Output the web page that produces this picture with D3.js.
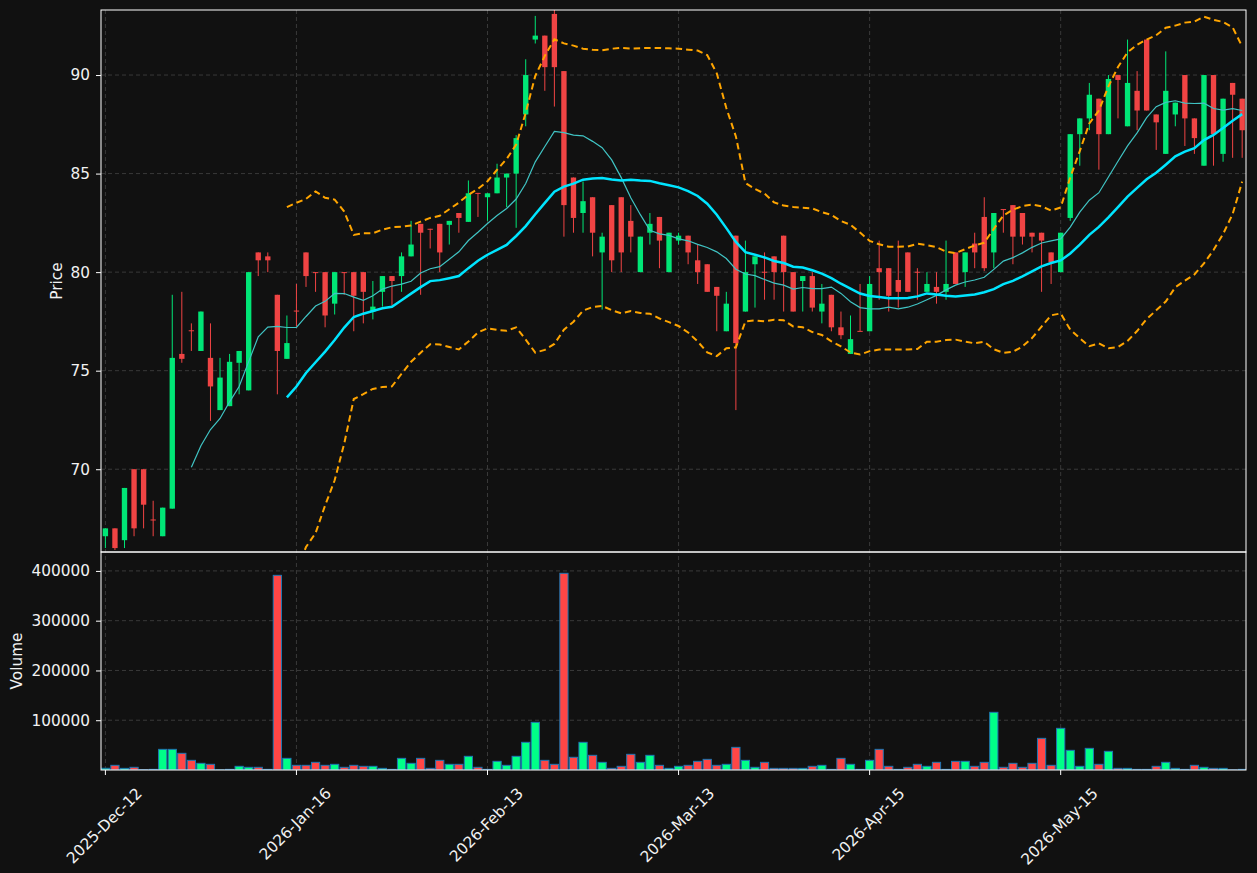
<!DOCTYPE html>
<html>
<head>
<meta charset="utf-8">
<script src="https://cdn.jsdelivr.net/npm/d3@7"></script>
<style>
  body { margin: 0; background: #111111; }
  svg { display: block; }
  text { font-family: "DejaVu Sans", sans-serif; }
</style>
</head>
<body>
<svg id="chart" width="1257" height="873"></svg>
<script>
// daily OHLC
var opens = [66.6,67.0,66.4,70.0,70.0,67.45,66.6,68.0,75.85,77.05,
  76.0,75.65,73.0,73.2,75.4,74.0,81.0,80.8,78.85,75.6,
  78.05,81.0,80.0,80.0,78.4,80.0,80.0,80.0,78.0,79.0,
  79.8,79.8,80.8,82.45,82.2,82.45,82.4,83.0,82.55,84.02,
  83.8,84.0,84.8,85.0,88.0,91.8,92.0,93.1,90.2,84.8,
  83.0,83.8,81.0,83.4,83.8,82.6,80.0,82.0,82.8,80.0,
  81.6,81.85,80.6,80.4,79.25,77.0,81.85,78.0,80.4,80.02,
  80.8,81.85,80.0,79.55,79.8,78.0,78.85,77.2,75.85,77.02,
  77.0,80.2,80.2,79.6,81.0,80.02,79.0,79.25,79.0,81.0,
  80.0,81.45,82.8,81.0,83.2,83.4,83.0,82.0,82.0,81.0,
  80.0,82.75,87.0,87.8,88.8,87.0,90.0,87.4,89.2,91.8,
  88.0,86.0,88.0,90.0,87.8,85.4,90.0,86.0,89.6,88.8];
var highs = [67.0,67.0,69.05,70.0,70.0,68.4,68.05,78.85,79.0,77.4,
  78.0,77.4,75.65,75.85,76.0,80.0,81.0,81.0,78.85,77.8,
  79.4,81.0,80.0,80.0,80.0,80.0,80.0,80.0,79.55,79.8,
  79.8,81.0,82.6,82.45,82.2,82.45,82.6,83.0,84.65,84.02,
  84.0,85.5,85.0,86.95,90.8,93.0,92.0,93.5,90.2,84.8,
  84.6,83.8,82.0,83.4,83.8,83.4,81.8,83.0,82.8,82.0,
  82.0,81.85,81.4,80.4,79.25,79.0,81.85,81.6,80.8,81.0,
  80.8,81.85,80.0,79.8,80.0,79.4,78.85,78.0,77.8,79.4,
  79.8,81.6,80.2,81.6,81.0,80.2,80.0,80.0,81.6,81.0,
  81.0,82.0,83.8,83.0,83.2,83.4,83.0,82.0,82.0,81.0,
  82.0,87.0,87.8,89.6,88.8,90.0,90.0,91.8,90.2,91.8,
  88.0,91.2,88.6,90.0,87.8,90.0,90.0,88.8,89.6,88.8];
var lows = [66.0,65.9,66.0,66.6,67.0,66.6,66.6,68.0,75.4,76.0,
  76.0,72.45,73.0,73.2,73.8,74.0,79.8,80.0,73.8,75.6,
  77.25,79.25,79.0,77.2,77.85,78.85,77.0,77.4,77.6,78.25,
  78.3,79.0,80.8,78.85,81.2,80.0,81.4,82.0,82.55,82.8,
  82.6,84.0,83.3,82.25,87.4,91.6,89.2,88.4,81.8,82.0,
  82.0,80.8,78.1,80.0,80.0,81.0,80.0,81.4,80.2,80.0,
  81.4,80.4,79.4,79.0,77.0,77.0,73.0,78.0,78.2,78.6,
  78.6,78.0,78.0,78.0,78.0,77.4,77.0,76.6,75.85,77.0,
  77.0,78.6,78.0,78.2,79.0,78.6,79.0,78.4,78.6,79.4,
  79.25,80.2,80.05,80.2,82.0,80.4,81.4,81.0,79.0,79.4,
  80.0,82.6,85.4,87.2,85.2,87.0,87.8,87.4,87.2,88.2,
  86.2,86.0,87.4,86.4,86.0,85.4,85.4,85.6,85.8,85.8];
var closes = [67.0,66.0,69.05,67.0,68.2,67.4,68.05,75.65,75.6,77.0,
  78.0,74.2,74.65,75.45,76.0,80.0,80.6,80.6,76.0,76.4,
  78.0,79.8,79.97,77.8,80.0,79.97,78.8,79.0,78.25,79.8,
  79.55,80.8,81.4,82.0,82.15,81.0,82.6,82.75,84.0,84.0,
  84.0,84.8,85.0,86.8,90.0,92.0,90.4,90.4,83.4,82.75,
  83.6,82.0,81.8,80.6,81.0,81.8,81.8,82.45,81.6,82.0,
  81.85,81.0,80.0,79.0,78.8,78.4,76.4,80.0,80.8,80.0,
  80.0,80.0,78.0,79.8,78.2,78.4,77.2,76.8,76.6,77.0,
  79.4,80.0,78.8,79.0,79.0,80.0,79.4,79.0,79.4,79.4,
  81.0,81.0,80.2,83.0,83.18,81.8,81.8,81.8,81.6,80.5,
  82.0,87.0,87.8,89.0,87.0,89.8,89.75,89.6,88.2,88.2,
  87.6,89.2,88.6,87.8,86.8,90.0,87.0,88.8,89.0,87.2];
var volumes = [3500,9400,3300,5400,700,1300,41500,41500,33500,19400,
  13400,11400,300,1300,7400,5400,5400,1300,391100,23400,
  9400,9400,15400,9400,11400,5400,9400,7400,7400,3300,
  1300,23400,13400,23400,3300,19400,11400,11400,27500,5400,
  1300,17400,9400,27500,55600,95800,19400,11400,395200,25500,
  55600,29500,15400,3300,7400,31500,15400,29500,9400,3300,
  7400,9400,17400,21400,9400,11400,45500,19400,5400,15400,
  3300,3300,3300,3300,7400,9400,1300,23400,11400,1300,
  19400,41500,7400,1300,5400,11400,7400,15400,1300,17400,
  17400,7400,15400,115900,5400,13400,5400,13400,63600,9400,
  83700,39500,7400,43500,11400,37500,3300,3300,1300,1300,
  7400,15400,3300,1300,9400,5400,3300,3300,300,1300];

var tickIdx = [0, 20, 40, 60, 80, 100];
var tickLabels = ["2025-Dec-12", "2026-Jan-16", "2026-Feb-13", "2026-Mar-13", "2026-Apr-15", "2026-May-15"];
var priceTicks = [70, 75, 80, 85, 90];
var volTicks = [100000, 200000, 300000, 400000];

var upColor = '#00e676', downColor = '#f04444';
var volUp = '#00ff88', volDown = '#ff4646';
var textColor = '#f2f2f2', gridColor = '#444444';

var L = 101, R = 1246, T = 10, MID = 552, B = 770;

var svg = d3.select('#chart');
svg.append('rect').attr('width', 1257).attr('height', 873).attr('fill', '#111111');

var x = d3.scaleLinear().domain([-0.46, 119.4]).range([L, R]);
var y = d3.scaleLinear().domain([65.8, 93.3]).range([MID, T]);
var yv = d3.scaleLinear().domain([0, 438000]).range([B, MID]);
var step = x(1) - x(0);

// rolling stats over closes
function rolling(n, fn) {
  return closes.map(function(c, i) {
    if (i < n - 1) return null;
    return fn(closes.slice(i - n + 1, i + 1));
  });
}
function sd(w) {
  var m = d3.mean(w);
  return Math.sqrt(d3.mean(w, function(v) { return (v - m) * (v - m); }));
}
var ma10 = rolling(10, d3.mean);
var ma20 = rolling(20, d3.mean);
var upper = rolling(20, function(w) { return d3.mean(w) + 2 * sd(w); });
var lower = rolling(20, function(w) { return d3.mean(w) - 2 * sd(w); });

svg.append('clipPath').attr('id', 'clipMain')
  .append('rect').attr('x', L).attr('y', T).attr('width', R - L).attr('height', MID - T);
svg.append('clipPath').attr('id', 'clipVol')
  .append('rect').attr('x', L).attr('y', MID).attr('width', R - L).attr('height', B - MID);

// grid
var grid = svg.append('g').attr('stroke', gridColor).attr('stroke-width', 0.8)
  .attr('stroke-dasharray', '4,3');
priceTicks.forEach(function(p) {
  grid.append('line').attr('x1', L).attr('x2', R).attr('y1', y(p)).attr('y2', y(p));
});
volTicks.forEach(function(v) {
  grid.append('line').attr('x1', L).attr('x2', R).attr('y1', yv(v)).attr('y2', yv(v));
});
tickIdx.forEach(function(i) {
  grid.append('line').attr('x1', x(i)).attr('x2', x(i)).attr('y1', T).attr('y2', B);
});

// candles
var main = svg.append('g').attr('clip-path', 'url(#clipMain)');
var candles = main.selectAll('g.candle').data(d3.range(closes.length)).enter()
  .append('g').attr('class', 'candle');
candles.append('line')
  .attr('x1', function(i) { return x(i); }).attr('x2', function(i) { return x(i); })
  .attr('y1', function(i) { return y(highs[i]); }).attr('y2', function(i) { return y(lows[i]); })
  .attr('stroke', function(i) { return closes[i] >= opens[i] ? upColor : downColor; })
  .attr('stroke-width', 1);
candles.append('rect')
  .attr('x', function(i) { return x(i) - step * 0.28; })
  .attr('width', step * 0.56)
  .attr('y', function(i) { return y(Math.max(opens[i], closes[i])); })
  .attr('height', function(i) { return Math.max(1, Math.abs(y(opens[i]) - y(closes[i]))); })
  .attr('fill', function(i) { return closes[i] >= opens[i] ? upColor : downColor; });

// indicator lines
function drawLine(vals, color, width, dash) {
  var line = d3.line()
    .defined(function(d) { return d != null; })
    .x(function(d, i) { return x(i); })
    .y(function(d) { return y(d); });
  main.append('path').datum(vals).attr('d', line)
    .attr('fill', 'none').attr('stroke', color).attr('stroke-width', width)
    .attr('stroke-dasharray', dash || null);
}
drawLine(upper, '#ffa500', 2, '6.5,4');
drawLine(lower, '#ffa500', 2, '6.5,4');
drawLine(ma10, '#40c4c4', 1.2);
drawLine(ma20, '#00e5ff', 2.5);

// volume
var vol = svg.append('g').attr('clip-path', 'url(#clipVol)');
vol.selectAll('rect').data(volumes).enter().append('rect')
  .attr('x', function(d, i) { return x(i) - step * 0.43; })
  .attr('width', step * 0.86)
  .attr('y', function(d) { return yv(d); })
  .attr('height', function(d) { return B - yv(d); })
  .attr('fill', function(d, i) { return closes[i] >= opens[i] ? volUp : volDown; })
  .attr('stroke', '#1f77b4').attr('stroke-width', 1);

// frames
svg.append('rect').attr('x', L).attr('y', T).attr('width', R - L).attr('height', MID - T)
  .attr('fill', 'none').attr('stroke', '#ffffff').attr('stroke-width', 1);
svg.append('rect').attr('x', L).attr('y', MID).attr('width', R - L).attr('height', B - MID)
  .attr('fill', 'none').attr('stroke', '#ffffff').attr('stroke-width', 1);

// axes
function styleAxis(g) {
  g.select('.domain').remove();
  g.selectAll('.tick line').attr('stroke', '#ffffff');
  g.selectAll('.tick text').attr('fill', textColor).style('font-size', '15.3px')
    .style('font-family', '"DejaVu Sans", sans-serif');
}
svg.append('g').attr('transform', 'translate(' + L + ',0)')
  .call(d3.axisLeft(y).tickValues(priceTicks).tickSize(5).tickPadding(6))
  .call(styleAxis);
svg.append('g').attr('transform', 'translate(' + L + ',0)')
  .call(d3.axisLeft(yv).tickValues(volTicks).tickSize(5).tickPadding(6).tickFormat(d3.format('d')))
  .call(styleAxis);

var xa = svg.append('g');
tickIdx.forEach(function(i, k) {
  xa.append('line').attr('x1', x(i)).attr('x2', x(i)).attr('y1', B).attr('y2', B + 5)
    .attr('stroke', '#ffffff');
  var t = xa.append('text').text(tickLabels[k])
    .attr('fill', textColor).style('font-size', '15.3px')
    .attr('text-anchor', 'middle').attr('dominant-baseline', 'central');
  var len = t.node().getComputedTextLength();
  var half = 0.7071 * (len + 11) / 2;
  t.attr('transform', 'translate(' + (x(i) - 1) + ',' + (787 + half) + ') rotate(-45)');
});

svg.append('text').text('Price').attr('fill', textColor).style('font-size', '15.3px')
  .attr('text-anchor', 'middle')
  .attr('transform', 'translate(62,' + ((T + MID) / 2) + ') rotate(-90)');
svg.append('text').text('Volume').attr('fill', textColor).style('font-size', '15.3px')
  .attr('text-anchor', 'middle')
  .attr('transform', 'translate(22,' + ((MID + B) / 2) + ') rotate(-90)');
</script>
</body>
</html>
